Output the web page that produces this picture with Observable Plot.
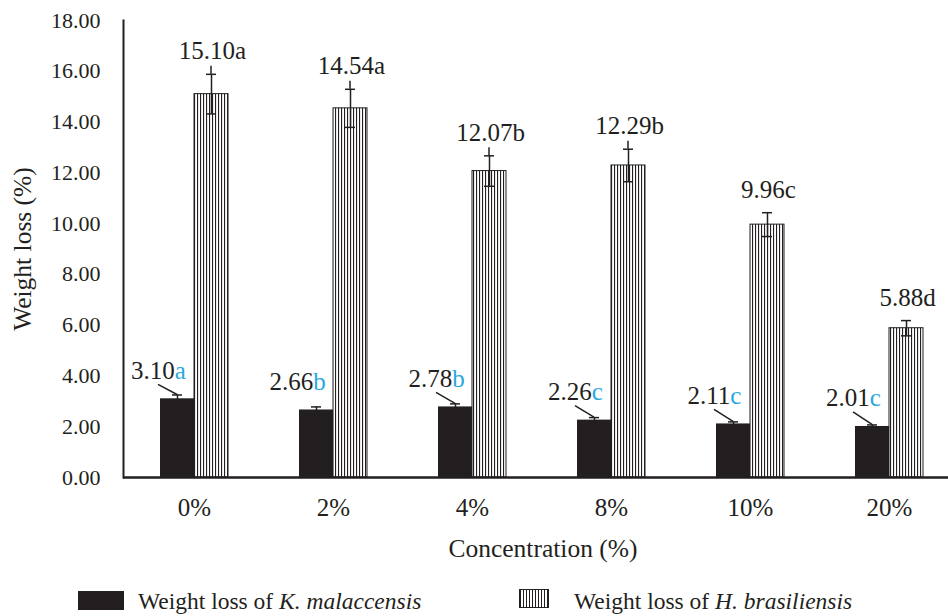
<!DOCTYPE html>
<html>
<head>
<meta charset="utf-8">
<script src="https://cdn.jsdelivr.net/npm/d3@7"></script>
<script src="https://cdn.jsdelivr.net/npm/@observablehq/plot@0.6"></script>
<style>
  html, body { margin: 0; padding: 0; background: #fff; }
  #wrap { position: relative; width: 948px; height: 616px; overflow: hidden; font-family: "Liberation Serif", "Times New Roman", serif; color: #231f20; }
  .sw { position: absolute; box-sizing: border-box; }
  .lt { position: absolute; font-size: 23.5px; line-height: 23px; white-space: nowrap; }
</style>
</head>
<body>
<div id="wrap">
  <div id="chart"></div>
  <div class="sw" style="left:78px; top:591px; width:46px; height:19px; background:#231f20;"></div>
  <div class="lt" style="left:138px; top:590px;">Weight loss of <i>K. malaccensis</i></div>
  <div class="sw" style="left:519px; top:589px; width:30px; height:19px; border:1px solid #231f20; background: repeating-linear-gradient(90deg, #231f20 0px, #231f20 1px, #fff 1px, #fff 3px);"></div>
  <div class="lt" style="left:574px; top:590px;">Weight loss of <i>H. brasiliensis</i></div>
</div>
<script>
// ---- data ----
const concentrations = ["0%", "2%", "4%", "8%", "10%", "20%"];
const kValues  = [3.10, 2.66, 2.78, 2.26, 2.11, 2.01];   // K. malaccensis
const kErrors  = [0.15, 0.12, 0.12, 0.10, 0.08, 0.06];
const kLetters = ["a", "b", "b", "c", "c", "c"];
const hValues  = [15.10, 14.54, 12.07, 12.29, 9.96, 5.88]; // H. brasiliensis
const hErrors  = [0.78, 0.75, 0.60, 0.64, 0.47, 0.30];
const hLetters = ["a", "a", "b", "b", "c", "d"];
const yTicks   = [0, 2, 4, 6, 8, 10, 12, 14, 16, 18];

const kData = concentrations.map((c, i) => ({c, v: kValues[i], e: kErrors[i], l: kLetters[i]}));
const hData = concentrations.map((c, i) => ({c, v: hValues[i], e: hErrors[i], l: hLetters[i]}));

const ink = "#231f20";
const blue = "#29a8e0";
const half = 17; // half of the pair offset (px)

const chart = Plot.plot({
  width: 948,
  height: 580,
  marginLeft: 123,
  marginRight: 0,
  marginTop: 20,
  marginBottom: 103,
  style: {fontFamily: "'Liberation Serif', 'Times New Roman', serif", fontSize: "22px", color: ink, background: "#fff", overflow: "visible"},
  x: {domain: concentrations, range: [123, 960], paddingInner: 0.756, paddingOuter: 0.378, label: null},
  y: {domain: [0, 18], label: null},
  marks: [
    Plot.barY(kData, {x: "c", y: "v", dx: -half, fill: ink}),
    Plot.barY(hData, {x: "c", y: "v", dx: half, fill: "url(#vhatch)", stroke: ink, strokeWidth: 1}),
    // error bars
    Plot.ruleX(kData, {x: "c", y1: d => d.v - d.e, y2: d => d.v + d.e, dx: -half, stroke: ink, strokeWidth: 1.5}),
    Plot.tickY(kData, {x: "c", y: d => d.v + d.e, dx: -half, inset: 12, stroke: ink, strokeWidth: 1.5}),
    Plot.ruleX(hData, {x: "c", y1: d => d.v - d.e, y2: d => d.v + d.e, dx: half, stroke: ink, strokeWidth: 1.5}),
    Plot.tickY(hData, {x: "c", y: d => d.v + d.e, dx: half, inset: 12, stroke: ink, strokeWidth: 1.5}),
    Plot.tickY(hData, {x: "c", y: d => d.v - d.e, dx: half, inset: 12, stroke: ink, strokeWidth: 1.5}),
    // data labels
    Plot.text(kData, {x: "c", y: "v", text: d => d.v.toFixed(2) + d.l, dx: -half - 19, dy: -28, fontSize: 25, fill: ink, className: "klabels", ariaLabel: "k-labels"}),
    Plot.text(hData, {x: "c", y: d => d.v + d.e, text: d => d.v.toFixed(2) + d.l, dx: half + 1, dy: -23, fontSize: 25, fill: ink}),
    // axes
    Plot.ruleY([0], {stroke: ink, strokeWidth: 2.5}),
    Plot.frame({anchor: "left", stroke: ink, strokeWidth: 2}),
    Plot.axisY({ticks: yTicks, tickFormat: d => d.toFixed(2), tickSize: 0, tickPadding: 23, label: null, fontSize: 22}),
    Plot.axisX({tickSize: 0, tickPadding: 21, label: null, fontSize: 25}),
    Plot.text(["Weight loss (%)"], {text: d => d, frameAnchor: "left", textAnchor: "middle", lineAnchor: "middle", rotate: -90, dx: -101, fontSize: 25.5, fill: ink}),
    Plot.text(["Concentration (%)"], {text: d => d, frameAnchor: "bottom", textAnchor: "middle", lineAnchor: "middle", dy: 71, dx: 7, fontSize: 25.5, fill: ink})
  ]
});

// hatch pattern for H. brasiliensis bars
const svg = d3.select(chart);
const defs = svg.insert("defs", ":first-child");
const pat = defs.append("pattern").attr("id", "vhatch").attr("patternUnits", "userSpaceOnUse").attr("width", 3).attr("height", 6);
pat.append("rect").attr("width", 3).attr("height", 6).attr("fill", "#fff");
pat.append("rect").attr("x", 0).attr("width", 1.1).attr("height", 6).attr("fill", ink);

// colour the significance letters of K. malaccensis labels
svg.selectAll('g.klabels text, g[aria-label="k-labels"] text, text[aria-label="k-labels"]').each(function () {
  const s = this.textContent;
  const m = s.match(/^([\d.]+)(\D+)$/);
  if (!m) return;
  this.textContent = "";
  d3.select(this).append("tspan").text(m[1]);
  d3.select(this).append("tspan").attr("fill", blue).text(m[2]);
});

// leader lines from labels to bars, positioned with the plot's own scales
const X = chart.scale("x"), Y = chart.scale("y");
const bw = X.bandwidth;
const kNoLeader = new Set(["2%"]);
const hLeader = new Set(["0%", "2%", "4%", "8%"]);
const lg = svg.append("g").attr("stroke", ink).attr("stroke-width", 1.5);
kData.forEach(d => {
  if (kNoLeader.has(d.c)) return;
  const cx = X.apply(d.c) + bw / 2 - half;
  const ly = Y.apply(d.v) - 28;
  lg.append("line").attr("x1", cx - 19).attr("y1", ly + 14).attr("x2", cx).attr("y2", Y.apply(d.v + d.e));
});
hData.forEach(d => {
  if (!hLeader.has(d.c)) return;
  const cx = X.apply(d.c) + bw / 2 + half;
  const top = Y.apply(d.v + d.e);
  lg.append("line").attr("x1", cx).attr("y1", top - 8).attr("x2", cx).attr("y2", top);
});

document.getElementById("chart").appendChild(chart);
</script>
</body>
</html>
